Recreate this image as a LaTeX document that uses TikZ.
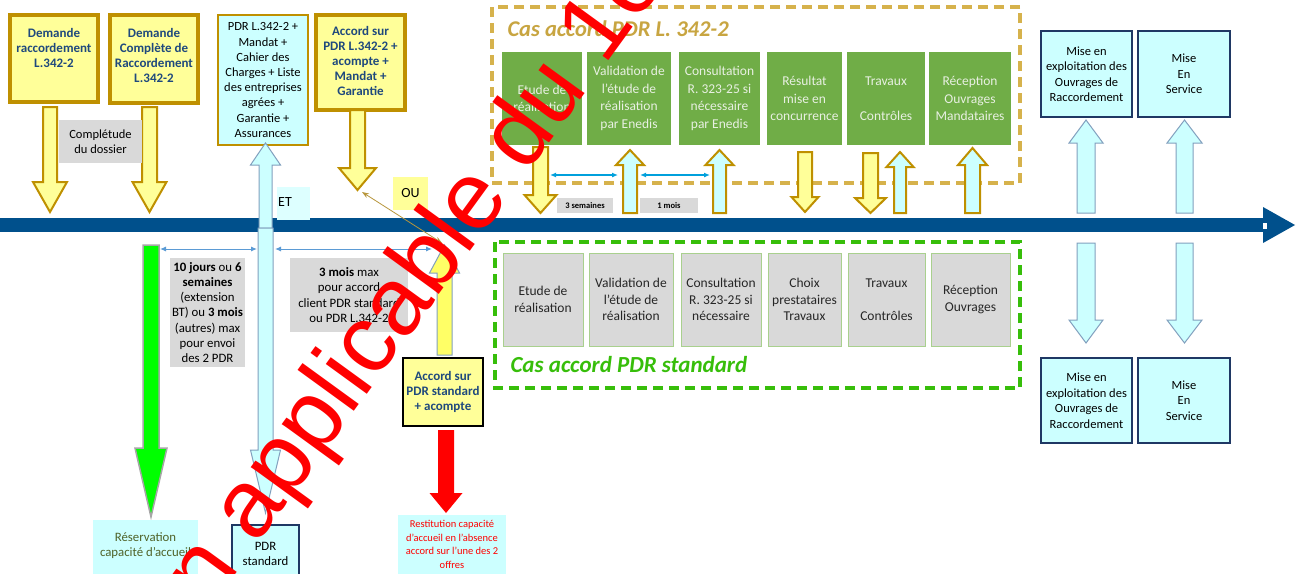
\documentclass[tikz,border=0pt]{standalone}
\usepackage{fontspec}
\setmainfont{Carlito}
\newfontfamily\wmfont{Liberation Sans}
\usetikzlibrary{arrows.meta}
\definecolor{gold}{RGB}{191,144,0}
\definecolor{lyellow}{RGB}{255,255,153}
\definecolor{myellow}{RGB}{255,255,102}
\definecolor{navytxt}{RGB}{31,73,125}
\definecolor{lcyan}{RGB}{204,255,255}
\definecolor{etcyan}{RGB}{221,255,255}
\definecolor{tblue}{RGB}{0,80,140}
\definecolor{lgray}{RGB}{217,217,217}
\definecolor{ggreen}{RGB}{112,173,71}
\definecolor{gtext}{RGB}{232,240,226}
\definecolor{dgold}{RGB}{214,178,76}
\definecolor{tgold}{RGB}{200,165,65}
\definecolor{dgreen}{RGB}{55,190,10}
\definecolor{dimblue}{RGB}{91,155,213}
\definecolor{dimcyan}{RGB}{0,160,220}
\definecolor{cyanline}{RGB}{130,160,190}
\definecolor{navybox}{RGB}{31,56,100}
\definecolor{olivetxt}{RGB}{79,98,40}
\definecolor{sgborder}{RGB}{169,208,142}
\definecolor{thinarrow}{RGB}{184,150,60}
\newcommand{\BlkArrow}[7][]{%
  \draw[#1] (#2-#6,#3) -- (#2+#6,#3) -- (#2+#6,#4) -- (#2+#7,#4) -- (#2,#5) -- (#2-#7,#4) -- (#2-#6,#4) -- cycle;}
\tikzset{
  ybox/.style={draw=gold, line width=3.5pt, fill=lyellow, inner sep=0pt},
  cbox/.style={draw=navybox, line width=2pt, fill=lcyan, inner sep=0pt, align=center,
     font=\fontsize{12.5}{15.5}\selectfont},
  bluetxt/.style={text=navytxt, align=center, font=\fontsize{13}{15}\selectfont\bfseries},
  gbox/.style={fill=ggreen, draw=none, minimum height=93pt, inner sep=0pt, align=center,
     text=gtext, font=\fontsize{13.5}{17.5}\selectfont},
  sbox/.style={fill=lgray, draw=sgborder, line width=1pt, minimum height=93pt, inner sep=0pt,
     align=center, text=black!85, font=\fontsize{13.5}{16.5}\selectfont},
  graybox/.style={fill=lgray, draw=none, inner sep=0pt, align=center},
  yarrow/.style={fill=lyellow, draw=gold, line width=2pt},
  carrow/.style={fill=lcyan, draw=gold, line width=2pt},
  rcarrow/.style={fill=lcyan, draw=cyanline, line width=1pt},
  dimline/.style={draw=dimblue, line width=1pt, {Latex[length=6pt,width=5pt]}-{Latex[length=6pt,width=5pt]}},
  dimlinec/.style={draw=dimcyan, line width=1.2pt, {Latex[length=6pt,width=5pt]}-{Latex[length=6pt,width=5pt]}},
  dashgold/.style={draw=dgold, line width=3.5pt, dash pattern=on 10pt off 6pt},
  dashgreen/.style={draw=dgreen, line width=3.5pt, dash pattern=on 10pt off 6pt},
}
\begin{document}
\begin{tikzpicture}[x=1pt,y=-1pt]
\useasboundingbox (0,0) rectangle (1305,573);
\clip (0,0) rectangle (1305,573);
\fill[white] (0,0) rectangle (1305,573);

% ---------- top-left boxes ----------
\node[ybox, minimum width=88pt, minimum height=87pt] (d1) at (54,58.5) {};
\node[bluetxt] (d1t) at (54,48) {Demande\\raccordement\\L.342-2};
\node[ybox, minimum width=88pt, minimum height=88pt] (d2) at (154,59) {};
\node[bluetxt] (d2t) at (154,55) {Demande\\Complète de\\Raccordement\\L.342-2};
\node[draw=gold, line width=1.5pt, fill=lcyan, minimum width=90pt, minimum height=130pt, inner sep=0pt,
      align=center, font=\fontsize{12.5}{15.2}\selectfont] (pdr) at (263,80)
      {PDR L.342-2 +\\Mandat +\\Cahier des\\Charges + Liste\\des entreprises\\agrées +\\Garantie +\\Assurances};
\node[ybox, minimum width=89pt, minimum height=95pt] (acc) at (360.5,62.5) {};
\node[bluetxt] (acct) at (360.5,61) {Accord sur\\PDR L.342-2 +\\acompte +\\Mandat +\\Garantie};

\BlkArrow[yarrow]{50}{107}{182}{212}{7}{17}
\BlkArrow[yarrow]{149.5}{107}{182}{212}{7.5}{17}
\node[graybox, minimum width=83pt, minimum height=43pt, font=\fontsize{12.5}{14.5}\selectfont] (compl) at (100.5,141.5) {Complétude\\du dossier};
\BlkArrow[yarrow]{357.5}{110}{168}{190}{7.5}{18.5}

% ---------- timeline ----------
\coordinate (tl0) at (0,225);
\coordinate (tl1) at (1295,225);
\fill[tblue] (0,218) rectangle (1263,232);
\fill[tblue] (1263,207) -- (tl1) -- (1263,243) -- cycle;
\draw[tblue, fill=white, line width=0.6pt] (1262,222) rectangle (1267,229);

% ET / OU
\node[fill=etcyan, minimum width=33pt, minimum height=33pt, inner sep=0pt] (etbox) at (293.5,203) {};
\node[font=\fontsize{14}{16}\selectfont] (et) at (285,202) {ET};
\node[fill=lyellow, minimum width=35pt, minimum height=33pt, inner sep=0pt, font=\fontsize{14}{16}\selectfont] (ou) at (410.5,193.5) {OU};

% cyan vertical arrows (ET)
\BlkArrow[rcarrow]{265.5}{228}{165}{143}{6.5}{15}
\BlkArrow[rcarrow]{265.5}{228}{450}{513}{7.5}{15}

% ---------- below timeline left ----------
\BlkArrow[fill=green, draw=black!35, line width=1.5pt]{151}{245}{448}{517}{8}{16}
\coordinate (dA) at (160,249);
\coordinate (dB) at (257,249);
\coordinate (dC) at (275,249);
\coordinate (dD) at (432,249);
\draw[dimline] (dA) -- (dB);
\draw[dimline] (dC) -- (dD);

\node[graybox, minimum width=75pt, minimum height=109pt, font=\fontsize{12.8}{15.3}\selectfont] (g10) at (207.5,312.5)
  {\textbf{10 jours} ou \textbf{6}\\\textbf{semaines}\\(extension\\BT) ou \textbf{3 mois}\\(autres) max\\pour envoi\\des 2 PDR};
\node[graybox, minimum width=118pt, minimum height=74pt, font=\fontsize{12.8}{15.5}\selectfont] (g3) at (349,295)
  {\textbf{3 mois} max\\pour accord\\client PDR standard\\ou PDR L.342-2};

\BlkArrow[fill=myellow, draw=cyanline, line width=1pt]{444.5}{355}{273}{245}{7.5}{15}
\coordinate (ouA) at (362,192);
\coordinate (ouB) at (442,243);
\draw[thinarrow, line width=0.8pt, {Stealth[length=7pt,width=5pt]}-{Stealth[length=7pt,width=5pt]}] (ouA) -- (ouB);

\node[fill=lyellow, draw=black, line width=2pt, minimum width=80pt, minimum height=68pt, inner sep=0pt,
      bluetxt] (accstd) at (443,392) {Accord sur\\PDR standard\\+ acompte};
\BlkArrow[fill=red, draw=none]{446}{430}{493}{513}{8}{16.5}

\node[fill=lcyan, minimum width=108pt, minimum height=75pt, inner sep=0pt] (rest) at (452,552) {};
\node[anchor=north, text=red, align=center, font=\fontsize{10.5}{13.5}\selectfont] (restt) at (452,517)
  {Restitution capacité\\d’accueil en l’absence\\accord sur l’une des 2\\offres};
\node[fill=lcyan, minimum width=105pt, minimum height=70pt, inner sep=0pt] (resv) at (145.5,555) {};
\node[text=olivetxt, align=center, font=\fontsize{12.8}{15}\selectfont] (resvt) at (145.5,545.5) {Réservation\\capacité d’accueil};
\node[fill=lcyan, draw=navybox, line width=2.5pt, minimum width=67pt, minimum height=70pt, inner sep=0pt] (pstd) at (265.5,560) {};
\node[align=center, font=\fontsize{12.8}{15}\selectfont] (pstdt) at (265.5,553.5) {PDR\\standard};

% ---------- top dashed box (L.342-2) ----------
\draw[dashgold] (492,7) rectangle (1020,183);
\node[anchor=base west, text=tgold, font=\fontsize{22.5}{25}\selectfont\bfseries\itshape] (t1) at (504,36) {Cas accord PDR L. 342-2};
\node[gbox, minimum width=80pt] (g1) at (542,98.5) {Etude de\\réalisation};
\node[gbox, minimum width=84pt] (g2) at (629,98.5) {Validation de\\l’étude de\\réalisation\\par Enedis};
\node[gbox, minimum width=81pt] (g3b) at (719.5,98.5) {Consultation\\R. 323-25 si\\nécessaire\\par Enedis};
\node[gbox, minimum width=75pt] (g4) at (804.5,98.5) {Résultat\\mise en\\concurrence};
\node[gbox, minimum width=78pt] (g5) at (886,98.5) {Travaux\\[17.5pt]Contrôles};
\node[gbox, minimum width=82pt] (g6) at (970,98.5) {Réception\\Ouvrages\\Mandataires};

\BlkArrow[yarrow]{540.5}{147}{195}{213}{7.5}{16}
\BlkArrow[carrow]{630}{213}{165}{150}{7}{14}
\BlkArrow[carrow]{719.5}{213}{165}{150}{6.5}{14}
\BlkArrow[yarrow]{805}{152}{197}{212}{7}{13.5}
\BlkArrow[yarrow]{870.5}{153}{198}{213}{7.5}{15.5}
\BlkArrow[carrow]{900}{213}{167}{152}{6}{13.5}
\BlkArrow[carrow]{972.5}{213}{165}{148}{7.5}{14.5}

\coordinate (sA) at (550,175);
\coordinate (sB) at (618,175);
\coordinate (sC) at (640,175);
\coordinate (sD) at (710,175);
\draw[dimlinec] (sA) -- (sB);
\draw[dimlinec] (sC) -- (sD);
\node[graybox, minimum width=56pt, minimum height=15pt, font=\fontsize{8.5}{10}\selectfont\bfseries] (l3s) at (585,205.5) {3 semaines};
\node[graybox, minimum width=58pt, minimum height=15pt, font=\fontsize{8.5}{10}\selectfont\bfseries] (l1m) at (669,205.5) {1 mois};

% ---------- bottom dashed box (standard) ----------
\draw[dashgreen] (495,242) rectangle (1020,388);
\node[sbox, minimum width=80pt] (s1) at (543,299.5) {Etude de\\réalisation};
\node[sbox, minimum width=84pt] (s2) at (631,299.5) {Validation de\\l’étude de\\réalisation};
\node[sbox, minimum width=80pt] (s3) at (721,299.5) {Consultation\\R. 323-25 si\\nécessaire};
\node[sbox, minimum width=73pt] (s4) at (804.5,299.5) {Choix\\prestataires\\Travaux};
\node[sbox, minimum width=77pt] (s5) at (886.5,299.5) {Travaux\\[16.5pt]Contrôles};
\node[sbox, minimum width=79pt] (s6) at (970.5,299.5) {Réception\\Ouvrages};
\node[anchor=base west, text=dgreen, font=\fontsize{23}{26}\selectfont\bfseries\itshape] (t2) at (507,372) {Cas accord PDR standard};

% ---------- right side ----------
\node[cbox, minimum width=91pt, minimum height=86pt] (m1) at (1086.5,74) {Mise en\\exploitation des\\Ouvrages de\\Raccordement};
\node[cbox, minimum width=92pt, minimum height=86pt] (m2) at (1184,74) {Mise\\En\\Service};
\BlkArrow[rcarrow]{1086}{213}{143}{120}{9}{17}
\BlkArrow[rcarrow]{1184.5}{213}{143}{120}{8.5}{17.5}
\BlkArrow[rcarrow]{1086}{243}{320}{343}{9}{17}
\BlkArrow[rcarrow]{1184.5}{243}{320}{343}{8.5}{17.5}
\node[cbox, minimum width=91pt, minimum height=85pt] (m3) at (1086.5,400.5) {Mise en\\exploitation des\\Ouvrages de\\Raccordement};
\node[cbox, minimum width=92pt, minimum height=85pt] (m4) at (1184,400.5) {Mise\\En\\Service};

% ---------- watermark ----------
\node[anchor=base west, rotate=54, text=red, inner sep=0pt, font=\wmfont\fontsize{96}{100}\selectfont] (wm) at (137.5,710) {Non applicable du 1er};
\end{tikzpicture}
\end{document}
